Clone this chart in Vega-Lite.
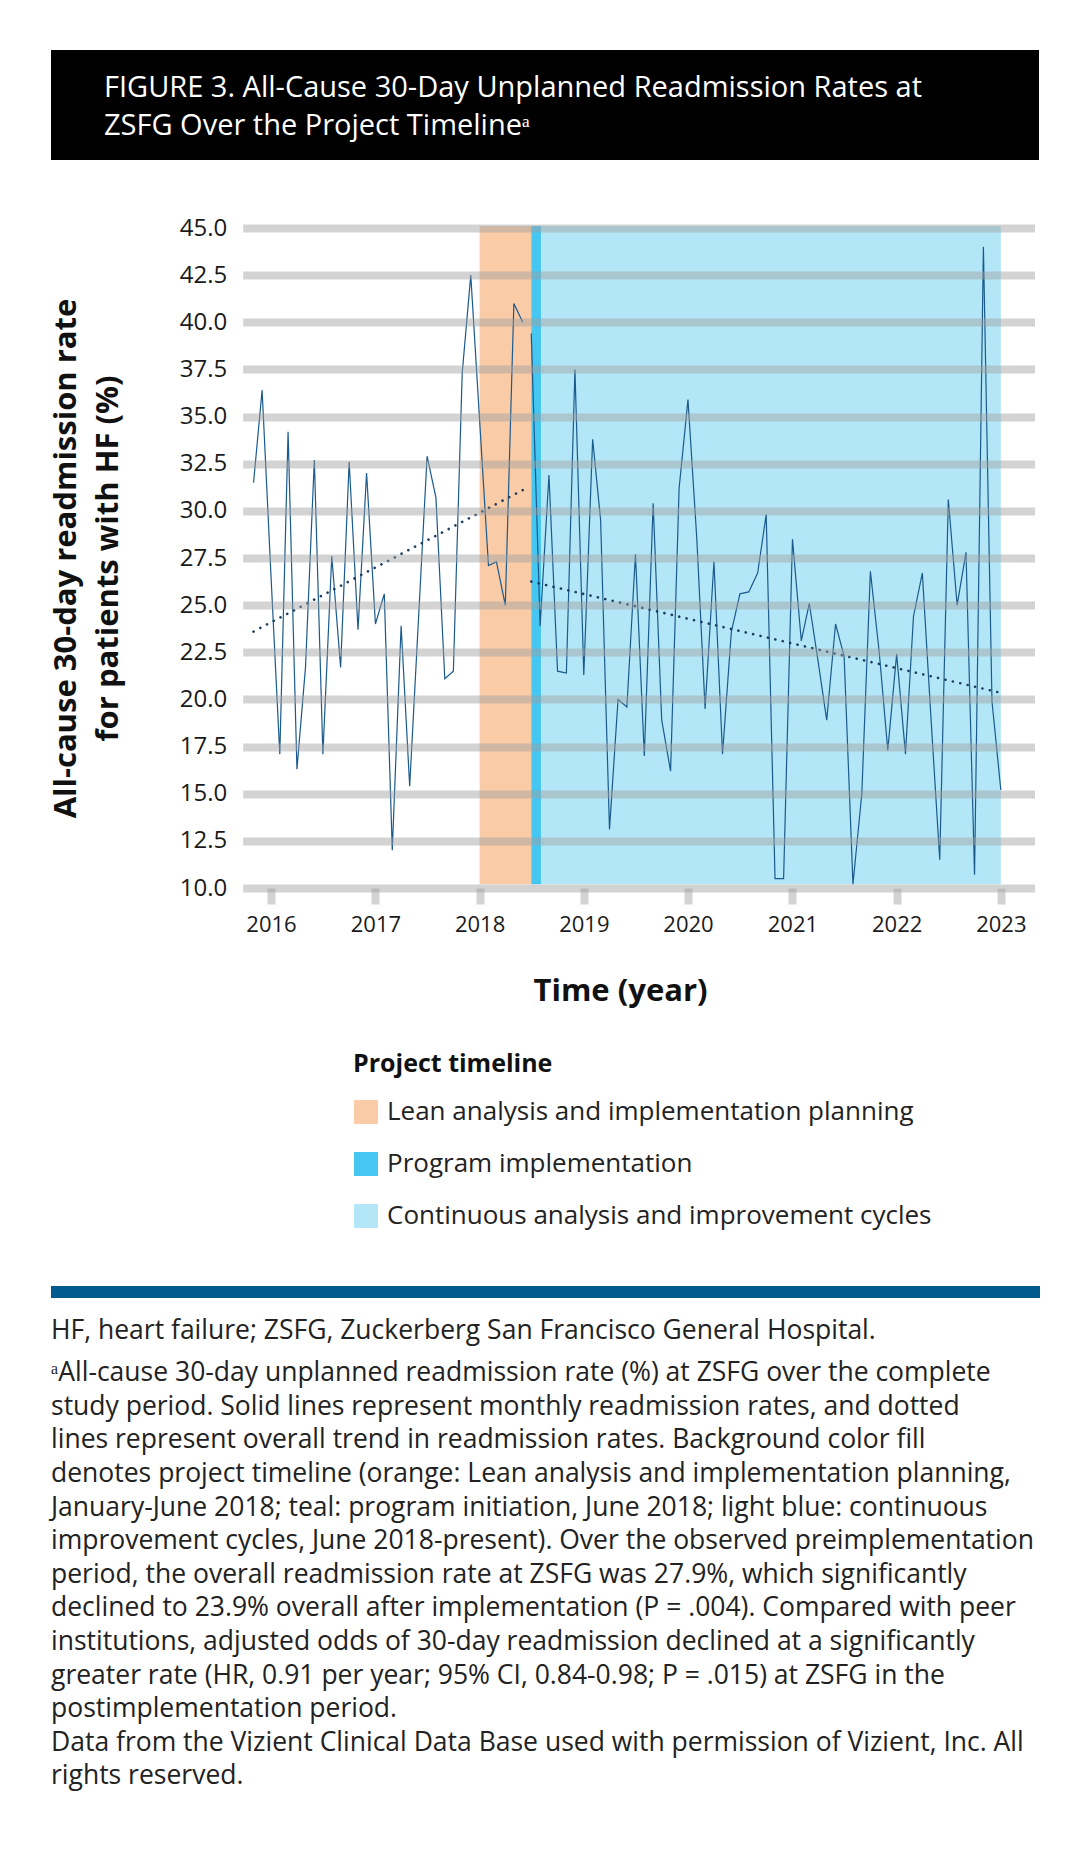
{
  "$schema": "https://vega.github.io/schema/vega-lite/v6.json",
  "background": "white",
  "padding": {"left": 50, "top": 50, "right": 0, "bottom": 0},
  "config": {
    "font": "Open Sans",
    "view": {"stroke": null},
    "axis": {"labelFont": "Open Sans", "titleFont": "Open Sans"},
    "legend": {"labelFont": "Open Sans", "titleFont": "Open Sans"},
    "title": {"font": "Open Sans", "subtitleFont": "Open Sans"}
  },
  "datasets": {
    "bands": [
      {"phase": "Lean analysis and implementation planning", "start": "2018/01/01", "end": "2018/07/01"},
      {"phase": "Program implementation", "start": "2018/07/01", "end": "2018/08/04"},
      {"phase": "Continuous analysis and improvement cycles", "start": "2018/08/04", "end": "2023/01/01"}
    ],
    "rates": [
      {"period": "pre", "date": "2015/11/01", "rate": 31.5},
      {"period": "pre", "date": "2015/12/01", "rate": 36.4},
      {"period": "pre", "date": "2016/01/01", "rate": 26.6},
      {"period": "pre", "date": "2016/02/01", "rate": 17.1},
      {"period": "pre", "date": "2016/03/01", "rate": 34.2},
      {"period": "pre", "date": "2016/04/01", "rate": 16.3},
      {"period": "pre", "date": "2016/05/01", "rate": 21.7},
      {"period": "pre", "date": "2016/06/01", "rate": 32.7},
      {"period": "pre", "date": "2016/07/01", "rate": 17.1},
      {"period": "pre", "date": "2016/08/01", "rate": 27.6},
      {"period": "pre", "date": "2016/09/01", "rate": 21.7},
      {"period": "pre", "date": "2016/10/01", "rate": 32.6},
      {"period": "pre", "date": "2016/11/01", "rate": 23.7},
      {"period": "pre", "date": "2016/12/01", "rate": 32.0},
      {"period": "pre", "date": "2017/01/01", "rate": 24.0},
      {"period": "pre", "date": "2017/02/01", "rate": 25.6},
      {"period": "pre", "date": "2017/03/01", "rate": 12.0},
      {"period": "pre", "date": "2017/04/01", "rate": 23.9},
      {"period": "pre", "date": "2017/05/01", "rate": 15.4},
      {"period": "pre", "date": "2017/06/01", "rate": 24.3},
      {"period": "pre", "date": "2017/07/01", "rate": 32.9},
      {"period": "pre", "date": "2017/08/01", "rate": 30.7},
      {"period": "pre", "date": "2017/09/01", "rate": 21.1},
      {"period": "pre", "date": "2017/10/01", "rate": 21.5},
      {"period": "pre", "date": "2017/11/01", "rate": 37.3},
      {"period": "pre", "date": "2017/12/01", "rate": 42.5},
      {"period": "pre", "date": "2018/01/01", "rate": 34.8},
      {"period": "pre", "date": "2018/02/01", "rate": 27.1},
      {"period": "pre", "date": "2018/03/01", "rate": 27.3},
      {"period": "pre", "date": "2018/04/01", "rate": 25.0},
      {"period": "pre", "date": "2018/05/01", "rate": 41.0},
      {"period": "pre", "date": "2018/06/01", "rate": 40.0},
      {"period": "post", "date": "2018/07/01", "rate": 39.4},
      {"period": "post", "date": "2018/08/01", "rate": 23.9},
      {"period": "post", "date": "2018/09/01", "rate": 31.9},
      {"period": "post", "date": "2018/10/01", "rate": 21.5},
      {"period": "post", "date": "2018/11/01", "rate": 21.4},
      {"period": "post", "date": "2018/12/01", "rate": 37.5},
      {"period": "post", "date": "2019/01/01", "rate": 21.3},
      {"period": "post", "date": "2019/02/01", "rate": 33.8},
      {"period": "post", "date": "2019/03/01", "rate": 29.5},
      {"period": "post", "date": "2019/04/01", "rate": 13.1},
      {"period": "post", "date": "2019/05/01", "rate": 20.0},
      {"period": "post", "date": "2019/06/01", "rate": 19.6},
      {"period": "post", "date": "2019/07/01", "rate": 27.7},
      {"period": "post", "date": "2019/08/01", "rate": 17.0},
      {"period": "post", "date": "2019/09/01", "rate": 30.4},
      {"period": "post", "date": "2019/10/01", "rate": 18.9},
      {"period": "post", "date": "2019/11/01", "rate": 16.2},
      {"period": "post", "date": "2019/12/01", "rate": 31.2},
      {"period": "post", "date": "2020/01/01", "rate": 35.9},
      {"period": "post", "date": "2020/02/01", "rate": 28.5},
      {"period": "post", "date": "2020/03/01", "rate": 19.5},
      {"period": "post", "date": "2020/04/01", "rate": 27.3},
      {"period": "post", "date": "2020/05/01", "rate": 17.1},
      {"period": "post", "date": "2020/06/01", "rate": 23.6},
      {"period": "post", "date": "2020/07/01", "rate": 25.6},
      {"period": "post", "date": "2020/08/01", "rate": 25.7},
      {"period": "post", "date": "2020/09/01", "rate": 26.7},
      {"period": "post", "date": "2020/10/01", "rate": 29.8},
      {"period": "post", "date": "2020/11/01", "rate": 10.5},
      {"period": "post", "date": "2020/12/01", "rate": 10.5},
      {"period": "post", "date": "2021/01/01", "rate": 28.5},
      {"period": "post", "date": "2021/02/01", "rate": 23.1},
      {"period": "post", "date": "2021/03/01", "rate": 25.1},
      {"period": "post", "date": "2021/04/01", "rate": 22.0},
      {"period": "post", "date": "2021/05/01", "rate": 18.9},
      {"period": "post", "date": "2021/06/01", "rate": 24.0},
      {"period": "post", "date": "2021/07/01", "rate": 22.3},
      {"period": "post", "date": "2021/08/01", "rate": 10.2},
      {"period": "post", "date": "2021/09/01", "rate": 15.0},
      {"period": "post", "date": "2021/10/01", "rate": 26.8},
      {"period": "post", "date": "2021/11/01", "rate": 22.5},
      {"period": "post", "date": "2021/12/01", "rate": 17.3},
      {"period": "post", "date": "2022/01/01", "rate": 22.4},
      {"period": "post", "date": "2022/02/01", "rate": 17.1},
      {"period": "post", "date": "2022/03/01", "rate": 24.4},
      {"period": "post", "date": "2022/04/01", "rate": 26.7},
      {"period": "post", "date": "2022/05/01", "rate": 19.1},
      {"period": "post", "date": "2022/06/01", "rate": 11.5},
      {"period": "post", "date": "2022/07/01", "rate": 30.6},
      {"period": "post", "date": "2022/08/01", "rate": 25.0},
      {"period": "post", "date": "2022/09/01", "rate": 27.8},
      {"period": "post", "date": "2022/10/01", "rate": 10.7},
      {"period": "post", "date": "2022/11/01", "rate": 44.0},
      {"period": "post", "date": "2022/12/01", "rate": 19.9},
      {"period": "post", "date": "2023/01/01", "rate": 15.2}
    ],
    "trends": [
      {"period": "pre", "date": "2015/11/01", "rate": 23.6},
      {"period": "pre", "date": "2018/06/01", "rate": 31.1},
      {"period": "post", "date": "2018/07/01", "rate": 26.25},
      {"period": "post", "date": "2023/01/01", "rate": 20.35}
    ]
  },
  "spacing": 280,
  "vconcat": [
    {
      "spacing": 56,
      "vconcat": [
        {
          "width": 988,
          "height": 110,
          "view": {"fill": "#000000", "stroke": null},
          "data": {"values": []},
          "mark": "rect",
          "title": {
            "text": "FIGURE 3. All-Cause 30-Day Unplanned Readmission Rates at",
            "subtitle": "ZSFG Over the Project Timelineᵃ",
            "anchor": "start",
            "frame": "group",
            "orient": "top",
            "offset": -91,
            "dx": 53,
            "color": "#ffffff",
            "subtitleColor": "#ffffff",
            "fontSize": 29,
            "subtitleFontSize": 29,
            "fontWeight": "normal",
            "subtitleFontWeight": "normal",
            "subtitlePadding": 9
          }
        },
        {
          "width": 984,
          "height": 660,
          "layer": [
            {
              "data": {"name": "bands"},
              "mark": {"type": "rect"},
              "encoding": {
                "x": {
                  "field": "start",
                  "type": "temporal",
                  "scale": {"domain": ["2015/09/24", "2023/04/29"], "range": [191.7, 983.5]},
                  "axis": {
                    "format": "%Y",
                    "tickCount": {"interval": "year", "step": 1},
                    "grid": false,
                    "domain": false,
                    "ticks": true,
                    "tickColor": "#d3d3d3",
                    "tickWidth": 8,
                    "tickSize": 16,
                    "labelFlush": false,
                    "labelFontSize": 22,
                    "labelPadding": 10,
                    "labelColor": "#1a1a1a",
                    "title": "Time (year)",
                    "titleFontSize": 31,
                    "titleFontWeight": "bold",
                    "titleColor": "#111111",
                    "titlePadding": 41,
                    "titleX": 569
                  }
                },
                "x2": {"field": "end"},
                "y": {
                  "datum": 10.2,
                  "type": "quantitative",
                  "scale": {"domain": [10, 45], "nice": false, "zero": false},
                  "axis": {
                    "values": [10, 12.5, 15, 17.5, 20, 22.5, 25, 27.5, 30, 32.5, 35, 37.5, 40, 42.5, 45],
                    "format": ".1f",
                    "offset": -191.7,
                    "zindex": 1,
                    "grid": true,
                    "gridColor": "#9f9f9f",
                    "gridOpacity": 0.46,
                    "gridWidth": 8,
                    "ticks": false,
                    "domain": false,
                    "labelFontSize": 24,
                    "labelPadding": 16,
                    "labelColor": "#1a1a1a",
                    "title": ["All-cause 30-day readmission rate", "for patients with HF (%)"],
                    "titleFontSize": 31,
                    "titleFontWeight": "bold",
                    "titleColor": "#111111",
                    "titleLineHeight": 42,
                    "titlePadding": 55
                  }
                },
                "y2": {"datum": 45.1},
                "color": {
                  "field": "phase",
                  "type": "nominal",
                  "title": "Project timeline",
                  "scale": {
                    "domain": ["Lean analysis and implementation planning", "Program implementation", "Continuous analysis and improvement cycles"],
                    "range": ["#f9cba7", "#45c7f2", "#b3e7f8"]
                  },
                  "legend": {
                    "orient": "none",
                    "legendX": 302,
                    "legendY": 1002,
                    "direction": "vertical",
                    "padding": 0,
                    "symbolType": "square",
                    "symbolSize": 576,
                    "symbolStrokeWidth": 0,
                    "symbolOpacity": 1,
                    "labelFontSize": 26,
                    "labelColor": "#222222",
                    "labelOffset": 8,
                    "labelLimit": 800,
                    "titleFontSize": 25,
                    "titleFontWeight": "bold",
                    "titleColor": "#111111",
                    "titleLimit": 600,
                    "titlePadding": 22,
                    "rowPadding": 26
                  }
                }
              }
            },
            {
              "data": {"name": "rates"},
              "mark": {"type": "line", "color": "#1b5a8c", "strokeWidth": 1.2},
              "encoding": {
                "x": {"field": "date", "type": "temporal"},
                "y": {"field": "rate", "type": "quantitative"},
                "detail": {"field": "period"}
              }
            },
            {
              "data": {"name": "trends"},
              "mark": {"type": "line", "color": "#1f3d5e", "strokeWidth": 2.6, "strokeDash": [0.1, 7.5], "strokeCap": "round"},
              "encoding": {
                "x": {"field": "date", "type": "temporal"},
                "y": {"field": "rate", "type": "quantitative"},
                "detail": {"field": "period"}
              }
            }
          ]
        }
      ]
    },
    {
      "spacing": 19,
      "vconcat": [
        {
          "width": 989,
          "height": 12,
          "view": {"fill": "#035a8e", "stroke": null},
          "data": {"values": []},
          "mark": "rect"
        },
        {
          "width": 988,
          "height": 1,
          "data": {"values": []},
          "mark": "rect",
          "title": {
            "text": "HF, heart failure; ZSFG, Zuckerberg San Francisco General Hospital.",
            "subtitle": [
              "ᵃAll-cause 30-day unplanned readmission rate (%) at ZSFG over the complete",
              "study period. Solid lines represent monthly readmission rates, and dotted",
              "lines represent overall trend in readmission rates. Background color fill",
              "denotes project timeline (orange: Lean analysis and implementation planning,",
              "January-June 2018; teal: program initiation, June 2018; light blue: continuous",
              "improvement cycles, June 2018-present). Over the observed preimplementation",
              "period, the overall readmission rate at ZSFG was 27.9%, which significantly",
              "declined to 23.9% overall after implementation (P = .004). Compared with peer",
              "institutions, adjusted odds of 30-day readmission declined at a significantly",
              "greater rate (HR, 0.91 per year; 95% CI, 0.84-0.98; P = .015) at ZSFG in the",
              "postimplementation period.",
              "Data from the Vizient Clinical Data Base used with permission of Vizient, Inc. All",
              "rights reserved."
            ],
            "anchor": "start",
            "frame": "group",
            "orient": "top",
            "offset": 0,
            "fontSize": 26.5,
            "subtitleFontSize": 26.5,
            "fontWeight": "normal",
            "subtitleFontWeight": "normal",
            "color": "#222222",
            "subtitleColor": "#222222",
            "subtitleLineHeight": 33.6,
            "subtitlePadding": 16
          }
        }
      ]
    }
  ]
}
